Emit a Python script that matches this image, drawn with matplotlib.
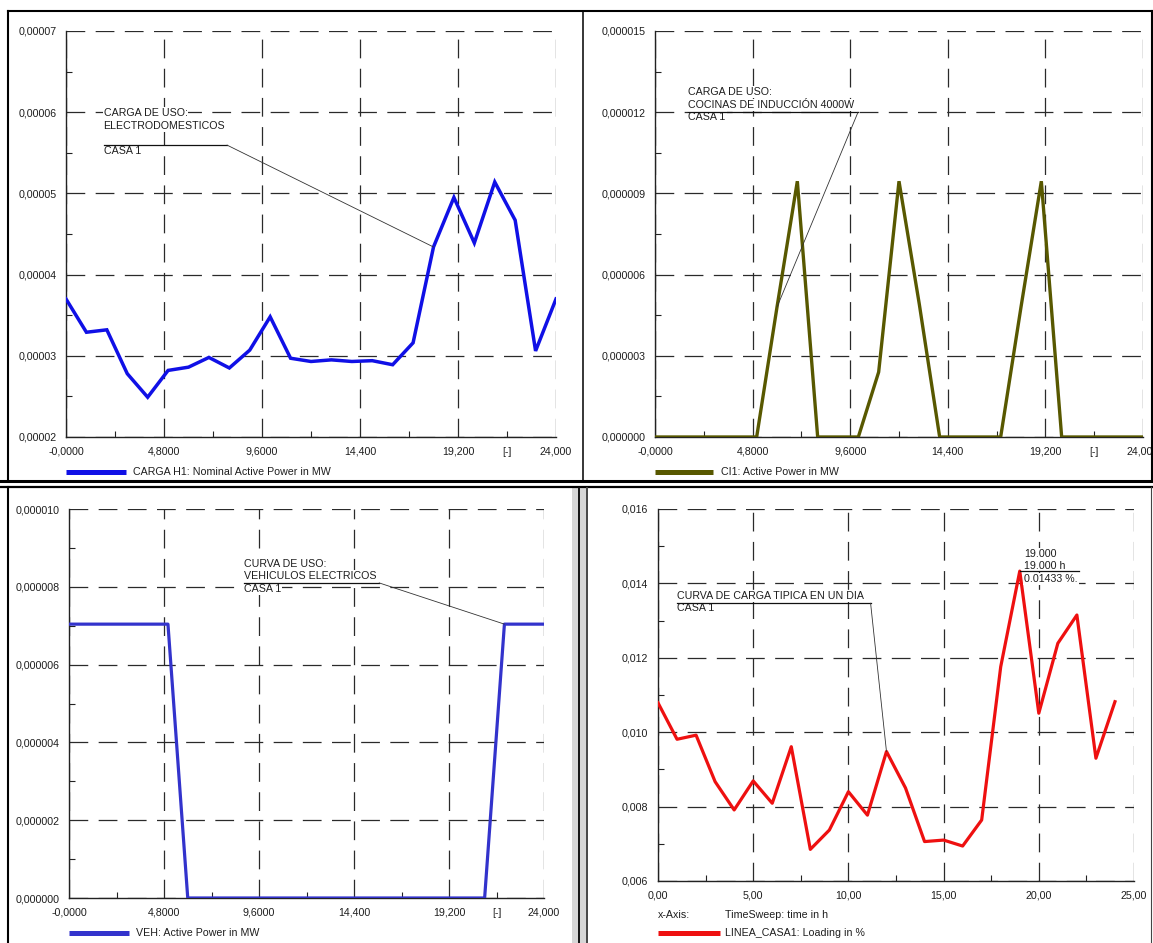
import matplotlib
matplotlib.use('Agg')
import matplotlib.pyplot as plt
from matplotlib.lines import Line2D
from matplotlib.patches import Rectangle

plt.rcParams['font.family'] = ['Liberation Sans', 'DejaVu Sans']
plt.rcParams['lines.scale_dashes'] = False

# ---------------- data ----------------
hours = [0, 1, 2, 3, 4, 5, 6, 7, 8, 9, 10, 11, 12, 13, 14, 15, 16, 17, 18, 19, 20, 21, 22, 23, 24]

carga_h1 = [3.70e-5, 3.29e-5, 3.32e-5, 2.78e-5, 2.49e-5, 2.82e-5, 2.86e-5, 2.98e-5, 2.85e-5,
            3.07e-5, 3.48e-5, 2.97e-5, 2.93e-5, 2.95e-5, 2.93e-5, 2.94e-5, 2.89e-5, 3.16e-5,
            4.34e-5, 4.95e-5, 4.39e-5, 5.14e-5, 4.67e-5, 3.06e-5, 3.70e-5]

ci1 = [0.0, 0.0, 0.0, 0.0, 0.0, 0.0, 4.8e-6, 9.45e-6, 0.0, 0.0, 0.0, 2.4e-6, 9.45e-6, 4.9e-6,
       0.0, 0.0, 0.0, 0.0, 4.8e-6, 9.45e-6, 0.0, 0.0, 0.0, 0.0, 0.0]

veh = [7.04e-6, 7.04e-6, 7.04e-6, 7.04e-6, 7.04e-6, 7.04e-6, 0.0, 0.0, 0.0, 0.0, 0.0, 0.0, 0.0,
       0.0, 0.0, 0.0, 0.0, 0.0, 0.0, 0.0, 0.0, 0.0, 7.04e-6, 7.04e-6, 7.04e-6]

linea_casa1 = [0.01079, 0.00981, 0.00992, 0.00867, 0.00791, 0.00869, 0.00809, 0.00961, 0.00685,
               0.00737, 0.00840, 0.00777, 0.00948, 0.00850, 0.00706, 0.00710, 0.00694, 0.00764,
               0.01176, 0.01433, 0.01051, 0.01239, 0.01315, 0.00930, 0.01082]

# ticks / labels
x24_ticks = [0, 4.8, 9.6, 14.4, 19.2, 24.0]
x24_labels = ['-0,0000', '4,8000', '9,6000', '14,400', '19,200', '24,000']
x24_minor = [2.4, 7.2, 12.0, 16.8, 21.6]
x24_minor_labels = ['', '', '', '', '[-]']

y1_ticks = [0.00002, 0.00003, 0.00004, 0.00005, 0.00006, 0.00007]
y1_labels = ['0,00002', '0,00003', '0,00004', '0,00005', '0,00006', '0,00007']
y1_minor = [0.000025, 0.000035, 0.000045, 0.000055, 0.000065]

y2_ticks = [0.0, 3e-6, 6e-6, 9e-6, 12e-6, 15e-6]
y2_labels = ['0,000000', '0,000003', '0,000006', '0,000009', '0,000012', '0,000015']
y2_minor = [1.5e-6, 4.5e-6, 7.5e-6, 10.5e-6, 13.5e-6]

y3_ticks = [0.0, 2e-6, 4e-6, 6e-6, 8e-6, 10e-6]
y3_labels = ['0,000000', '0,000002', '0,000004', '0,000006', '0,000008', '0,000010']
y3_minor = [1e-6, 3e-6, 5e-6, 7e-6, 9e-6]

x4_ticks = [0, 5, 10, 15, 20, 25]
x4_labels = ['0,00', '5,00', '10,00', '15,00', '20,00', '25,00']
x4_minor = [2.5, 7.5, 12.5, 17.5, 22.5]
y4_ticks = [0.006, 0.008, 0.010, 0.012, 0.014, 0.016]
y4_labels = ['0,006', '0,008', '0,010', '0,012', '0,014', '0,016']
y4_minor = [0.007, 0.009, 0.011, 0.013, 0.015]

legend1 = 'CARGA H1: Nominal Active Power in MW'
legend2 = 'CI1: Active Power in MW'
legend3 = 'VEH: Active Power in MW'
legend4 = 'LINEA_CASA1: Loading in %'
xaxis4_a = 'x-Axis:'
xaxis4_b = 'TimeSweep: time in h'

note1 = ['CARGA DE USO:', 'ELECTRODOMESTICOS', 'CASA 1']
note2 = ['CARGA DE USO:', 'COCINAS DE INDUCCIÓN 4000W', 'CASA 1']
note3 = ['CURVA DE USO:', 'VEHICULOS ELECTRICOS', 'CASA 1']
note4 = ['CURVA DE CARGA TIPICA EN UN DIA', 'CASA 1']

C_BLUE1 = '#1010e6'
C_OLIVE = '#585800'
C_BLUE3 = '#3333cc'
C_RED = '#ee1010'
FS = 7.7
TXT = '#1e1e1e'

W, H = 1153, 943
fig = plt.figure(figsize=(W / 100, H / 100), dpi=100)
fig.patch.set_facecolor('white')


def px_axes(x0, y0, x1, y1):
    return fig.add_axes([x0 / W, 1 - y1 / H, (x1 - x0) / W, (y1 - y0) / H])


def style(ax, xlim, ylim, xt, xl, xm, yt, yl, ym, xml=None):
    ax.set_xlim(*xlim)
    ax.set_ylim(*ylim)
    ax.set_xticks(xt)
    ax.set_xticklabels(xl)
    ax.set_xticks(xm, minor=True)
    if xml is not None:
        ax.set_xticklabels(xml, minor=True)
    ax.set_yticks(yt)
    ax.set_yticklabels(yl)
    ax.set_yticks(ym, minor=True)
    ax.tick_params(which='major', length=0, pad=7, labelsize=FS, labelcolor=TXT)
    ax.tick_params(which='minor', direction='in', length=4, width=0.8, color='#222',
                   pad=7, labelsize=FS, labelcolor=TXT)
    ax.tick_params(axis='y', which='both', pad=7)
    for s in ('top', 'right'):
        ax.spines[s].set_visible(False)
    for s in ('left', 'bottom'):
        ax.spines[s].set_color('#222')
        ax.spines[s].set_linewidth(1.0)
    ax.set_axisbelow(True)
    ax.grid(True, which='major', color='#2a2a2a', linestyle=(0, (13.5, 7.5)), linewidth=0.9)
    ax.set_facecolor('white')


def note(ax, lines, x, ys, uy, ux1, target):
    for t, y in zip(lines, ys):
        ax.text(x, y, t, transform=ax.transAxes, ha='left', va='center', fontsize=FS,
                color=TXT, zorder=4,
                bbox=dict(facecolor='white', edgecolor='none', pad=0.6))
    ax.add_line(Line2D([x, ux1], [uy, uy], transform=ax.transAxes, color='#111',
                       lw=0.9, zorder=5))
    ax.annotate('', xy=target, xycoords='data', xytext=(ux1, uy), textcoords='axes fraction',
                arrowprops=dict(arrowstyle='-', color='#333', lw=0.6, shrinkA=0, shrinkB=0),
                zorder=5)


# ---------------- panel 1 ----------------
ax1 = px_axes(66, 31, 556, 437)
style(ax1, (0, 24), (0.00002, 0.00007), x24_ticks, x24_labels, x24_minor,
      y1_ticks, y1_labels, y1_minor, x24_minor_labels)
ax1.plot(hours, carga_h1, color=C_BLUE1, lw=2.5, zorder=3, solid_joinstyle='miter')
note(ax1, note1, 0.0767, [0.798, 0.766, 0.704], 0.719, 0.3286, (hours[18], carga_h1[18]))

# ---------------- panel 2 ----------------
ax2 = px_axes(655, 31, 1143, 437)
style(ax2, (0, 24), (0, 15e-6), x24_ticks, x24_labels, x24_minor,
      y2_ticks, y2_labels, y2_minor, x24_minor_labels)
ax2.plot(hours, ci1, color=C_OLIVE, lw=2.4, zorder=3, solid_joinstyle='miter')
note(ax2, note2, 0.0686, [0.850, 0.818, 0.788], 0.800, 0.416, (hours[6], ci1[6]))

# ---------------- panel 3 ----------------
ax3 = px_axes(69, 509, 544, 898)
style(ax3, (0, 24), (0, 10e-6), x24_ticks, x24_labels, x24_minor,
      y3_ticks, y3_labels, y3_minor, x24_minor_labels)
ax3.plot(hours, veh, color=C_BLUE3, lw=2.3, zorder=3)
note(ax3, note3, 0.368, [0.859, 0.828, 0.794], 0.810, 0.653, (hours[22], veh[22]))

# ---------------- panel 4 ----------------
ax4 = px_axes(658, 509, 1134, 881)
style(ax4, (0, 25), (0.006, 0.016), x4_ticks, x4_labels, x4_minor,
      y4_ticks, y4_labels, y4_minor)
ax4.plot(hours, linea_casa1, color=C_RED, lw=2.3, zorder=3)
note(ax4, note4, 0.040, [0.766, 0.734], 0.747, 0.4466, (hours[12], linea_casa1[12]))
ipk = max(range(len(linea_casa1)), key=lambda i: linea_casa1[i])
pk_lines = [f'{hours[ipk]:.3f}', f'{hours[ipk]:.3f} h', f'{linea_casa1[ipk]:.5f} %.']
for t, y in zip(pk_lines, [0.879, 0.847, 0.812]):
    ax4.text(0.769, y, t, transform=ax4.transAxes, ha='left', va='center', fontsize=FS,
             color=TXT, zorder=4, bbox=dict(facecolor='white', edgecolor='none', pad=0.6))
ax4.plot([hours[ipk], 0.884 * 25], [linea_casa1[ipk], linea_casa1[ipk]], color='#111',
         lw=0.9, zorder=5)

# ---------------- legends ----------------
def fline(x0, y0, x1, y1, **kw):
    fig.add_artist(Line2D([x0 / W, x1 / W], [1 - y0 / H, 1 - y1 / H],
                          transform=fig.transFigure, **kw))


def ftext(x, y, s, **kw):
    fig.text(x / W, 1 - y / H, s, ha='left', va='center', fontsize=FS, color=TXT, **kw)


fline(66, 472, 126, 472, color=C_BLUE1, lw=3.6, solid_capstyle='butt')
ftext(133, 472, legend1)
fline(655, 472, 713, 472, color=C_OLIVE, lw=3.6, solid_capstyle='butt')
ftext(721, 472, legend2)
fline(69, 933, 129, 933, color=C_BLUE3, lw=3.6, solid_capstyle='butt')
ftext(136, 933, legend3)
ftext(658, 915, xaxis4_a)
ftext(725, 915, xaxis4_b)
fline(658, 933, 720, 933, color=C_RED, lw=3.6, solid_capstyle='butt')
ftext(725, 933, legend4)

# ---------------- frames ----------------
fline(7.5, 10.5, 1151.5, 10.5, color='k', lw=1.5)
fline(7.5, 10.5, 7.5, 480, color='k', lw=1.5)
fline(1151.5, 10.5, 1151.5, 480, color='k', lw=1.5)
fline(583.5, 10.5, 583.5, 480, color='k', lw=1.1)
fline(0, 481, W, 481, color='k', lw=2.2)
fline(0, 486.7, W, 486.7, color='k', lw=1.6)
fline(8, 487, 8, H, color='k', lw=1.5)
fline(1150.5, 487, 1150.5, H, color='#444', lw=0.8)
fig.add_artist(Rectangle((571.5 / W, 0), 6 / W, 1 - 488 / H, transform=fig.transFigure,
                         facecolor='#d6d6d6', edgecolor='none'))
fig.add_artist(Rectangle((580 / W, 0), 5.5 / W, 1 - 488 / H, transform=fig.transFigure,
                         facecolor='#d6d6d6', edgecolor='none'))
fline(578.5, 488, 578.5, H, color='#111', lw=1.4)
fline(587, 488, 587, H, color='#444', lw=1.4)

fig.savefig('out.png', dpi=100, facecolor='white')
